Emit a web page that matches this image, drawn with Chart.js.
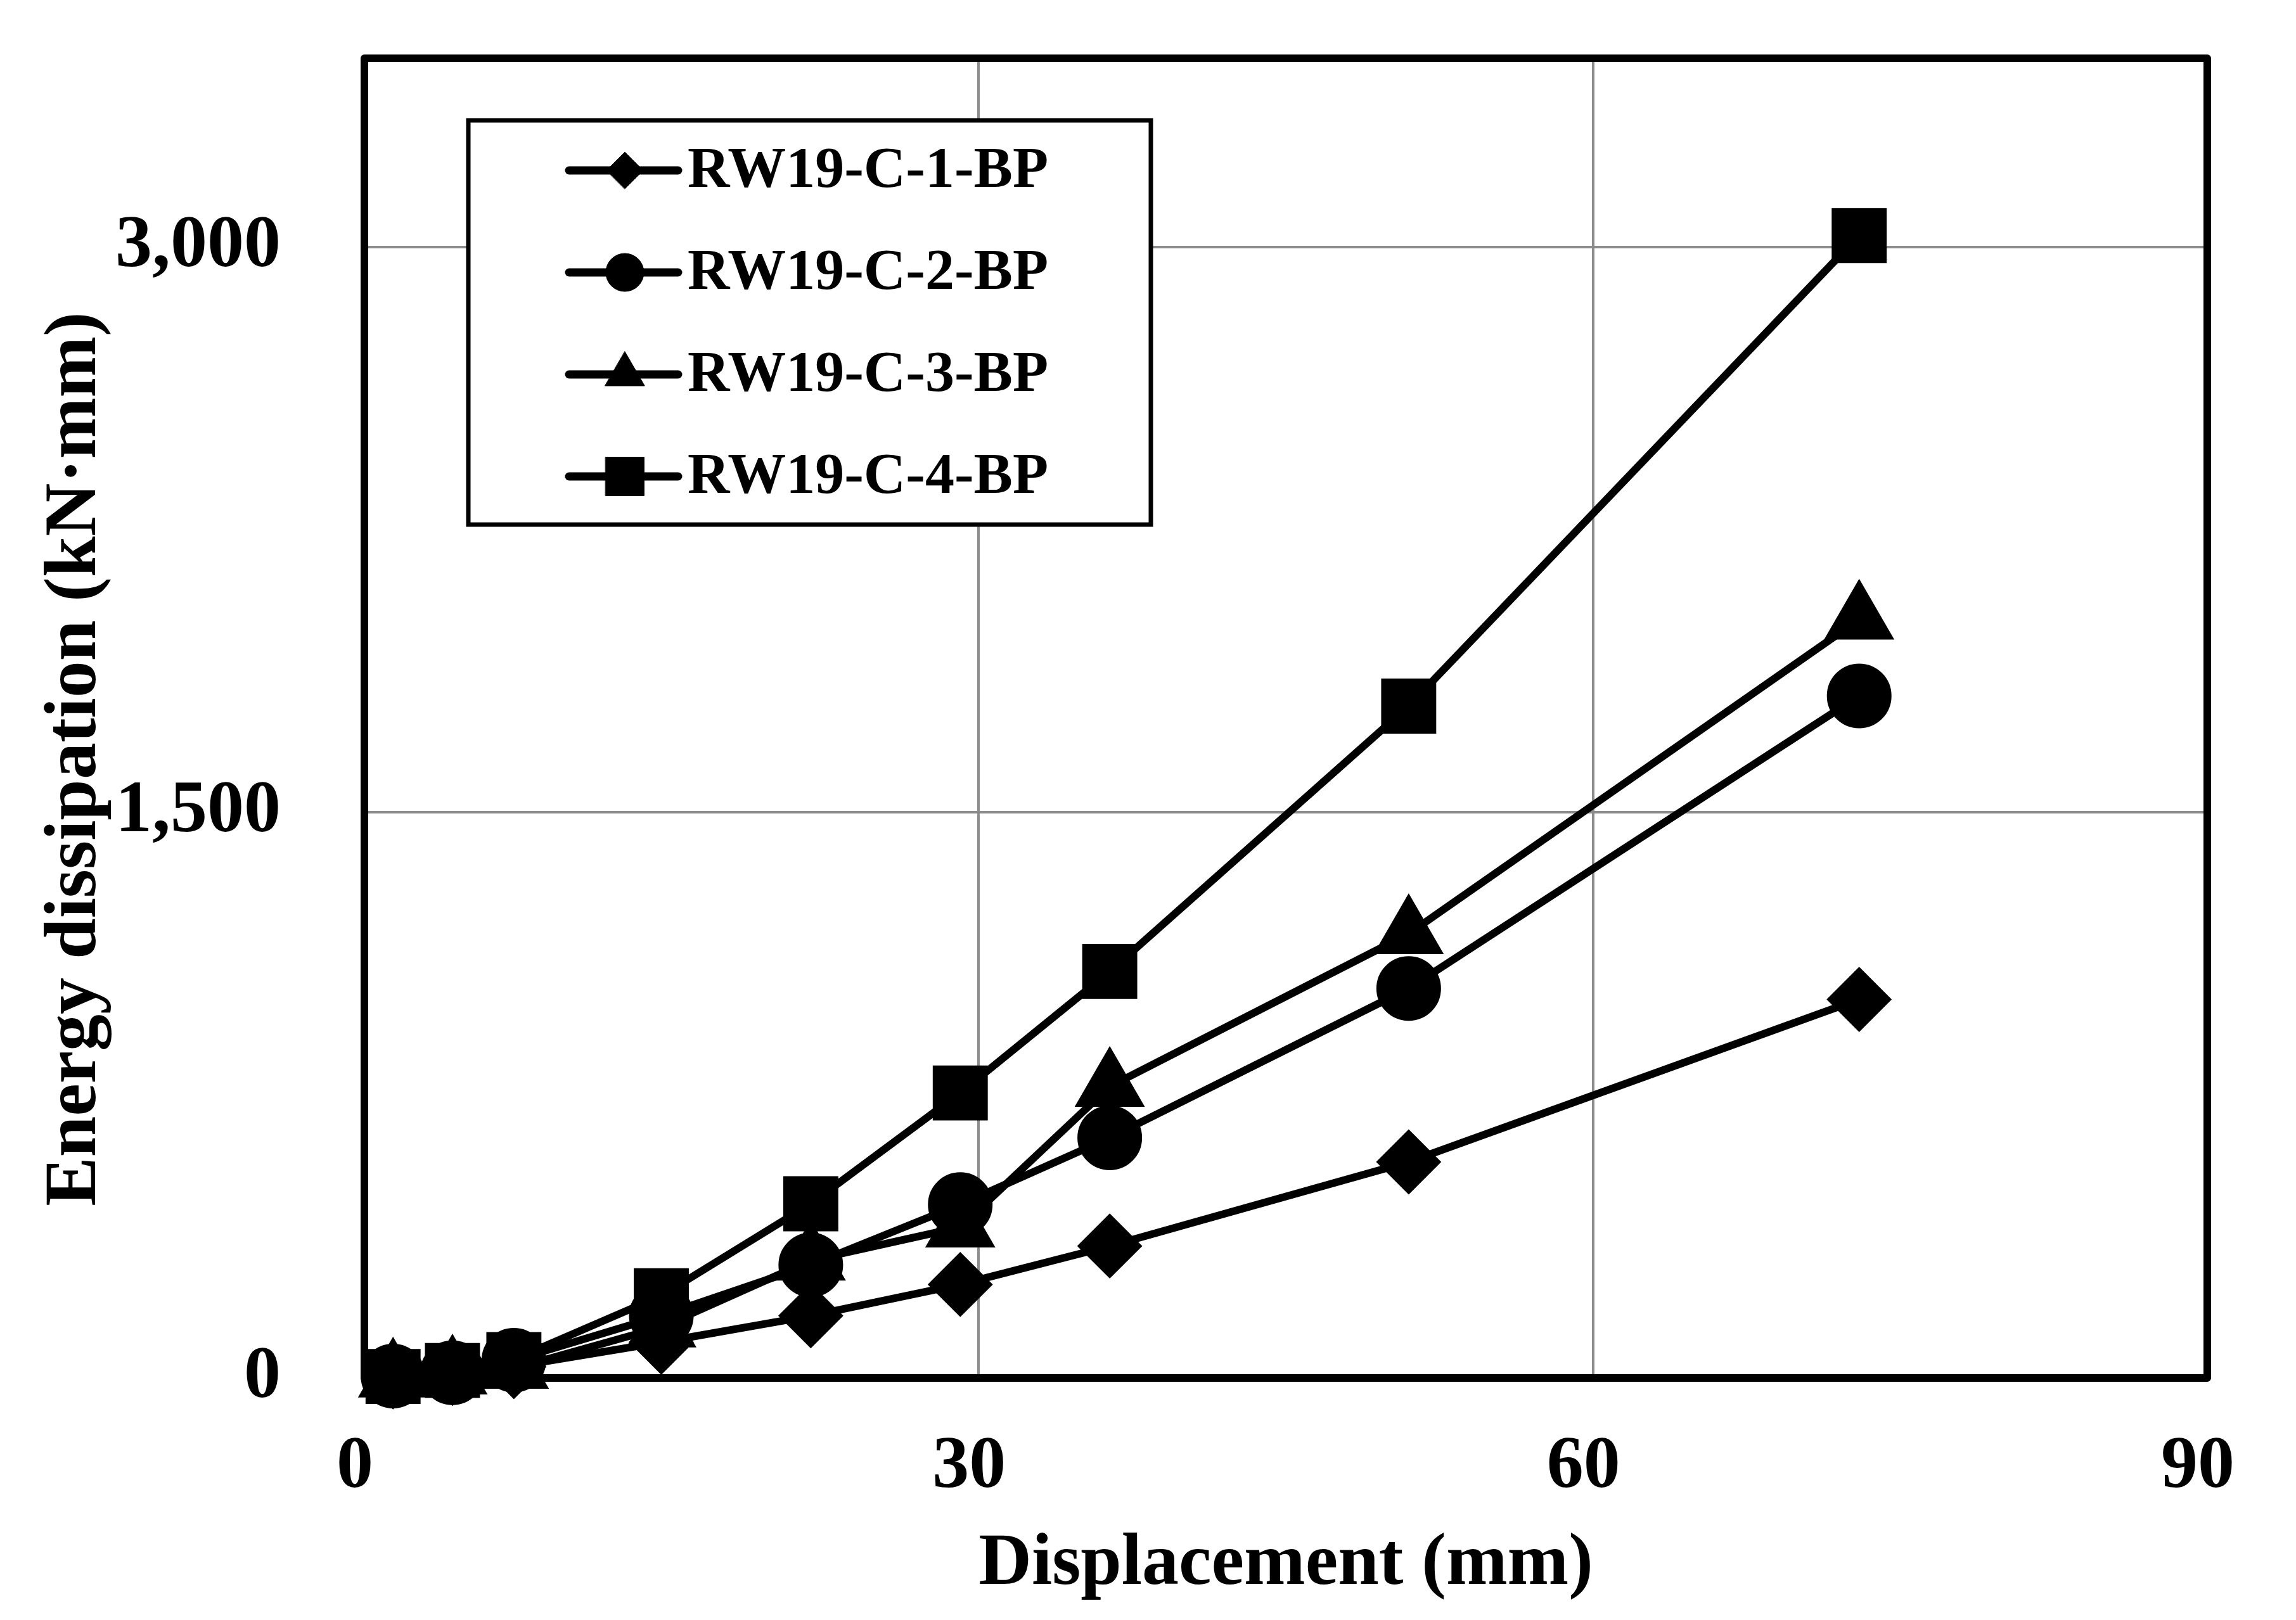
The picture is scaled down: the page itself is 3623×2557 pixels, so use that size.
<!DOCTYPE html>
<html>
<head>
<meta charset="utf-8">
<title>Energy dissipation</title>
<script src="https://cdn.jsdelivr.net/npm/chart.js@4.4.1/dist/chart.umd.min.js"></script>
<style>
  html, body { margin: 0; padding: 0; background: #fff; }
  canvas { display: block; }
</style>
</head>
<body>
<canvas id="energyChart" width="3623" height="2557"></canvas>
<script>
// Displacement steps (mm), shared by all four specimens
const displacement = [1.4, 4.3, 7.3, 14.5, 21.8, 29.1, 36.4, 51.0, 73.0];

// Energy dissipation (kN·mm)
const rw1 = [3, 12, 30, 95, 165, 248, 350, 573, 1004];
const rw2 = [5, 14, 47, 165, 300, 460, 637, 1033, 1809];
const rw3 = [2, 10, 25, 135, 312, 400, 773, 1178, 2012];
const rw4 = [4, 20, 49, 218, 462, 756, 1078, 1782, 3030];

const seriesNames = ['RW19-C-1-BP', 'RW19-C-2-BP', 'RW19-C-3-BP', 'RW19-C-4-BP'];
const xTicks = [0, 30, 60, 90];
const yTicks = [0, 1500, 3000];

const FONT = "'Liberation Serif', 'Times New Roman', serif";
const markers = ['rectRot', 'circle', 'triangle', 'rect'];
const markerSize = [50, 50, 62, 60];
const legendMarkerSize = [29, 30, 36, 43];

function toPoints(values) {
    return values.map((v, i) => ({ x: displacement[i], y: v }));
}

const datasets = [rw1, rw2, rw3, rw4].map((values, i) => ({
    label: seriesNames[i],
    data: toPoints(values),
    borderColor: '#000',
    backgroundColor: '#000',
    borderWidth: 12,
    pointStyle: markers[i],
    pointRadius: markerSize[i],
    pointBorderWidth: 2,
    pointBorderColor: '#000',
    pointBackgroundColor: '#000',
    tension: 0,
    clip: false
}));

// Thick black frame round the plot area, under the data
const plotFrame = {
    id: 'plotFrame',
    beforeDatasetsDraw(chart) {
        const { ctx, chartArea: a } = chart;
        ctx.save();
        ctx.strokeStyle = '#000';
        ctx.lineWidth = 12;
        ctx.lineJoin = 'round';
        ctx.strokeRect(a.left, a.top, a.right - a.left, a.bottom - a.top);
        ctx.restore();
    }
};

// Boxed legend inside the plot, line + marker like the original
const legendBox = {
    id: 'legendBox',
    afterDatasetsDraw(chart) {
        const { ctx, chartArea: a } = chart;
        const left = a.left + 164, top = a.top + 98, w = 1077, h = 638;
        ctx.save();
        ctx.fillStyle = '#fff';
        ctx.fillRect(left, top, w, h);
        ctx.strokeStyle = '#000';
        ctx.lineWidth = 7;
        ctx.strokeRect(left, top, w, h);

        chart.data.datasets.forEach((ds, i) => {
            const y = top + 79 + i * 161;
            ctx.strokeStyle = '#000';
            ctx.fillStyle = '#000';
            ctx.lineWidth = 13;
            ctx.lineCap = 'round';
            ctx.beginPath();
            ctx.moveTo(left + 159, y);
            ctx.lineTo(left + 331, y);
            ctx.stroke();

            ctx.lineWidth = 1;
            Chart.helpers.drawPoint(ctx, {
                pointStyle: ds.pointStyle,
                radius: legendMarkerSize[i],
                borderWidth: 1,
                rotation: 0
            }, left + 247, y);

            ctx.font = 'bold 92px ' + FONT;
            ctx.textAlign = 'left';
            ctx.textBaseline = 'middle';
            ctx.fillText(ds.label, left + 346, y + 2);
        });
        ctx.restore();
    }
};

// Y axis title, placed where the original has it (a little below centre)
const yTitle = {
    id: 'yTitle',
    afterDraw(chart) {
        const { ctx } = chart;
        ctx.save();
        ctx.translate(120, 1198);
        ctx.rotate(-Math.PI / 2);
        ctx.font = 'bold 116px ' + FONT;
        ctx.fillStyle = '#000';
        ctx.textAlign = 'center';
        ctx.textBaseline = 'middle';
        ctx.fillText('Energy dissipation (kN·mm)', 0, 0);
        ctx.restore();
    }
};

const ctx = document.getElementById('energyChart').getContext('2d');
new Chart(ctx, {
    type: 'line',
    data: { datasets },
    options: {
        responsive: false,
        animation: false,
        devicePixelRatio: 1,
        layout: { padding: { top: 92, right: 140, left: 0, bottom: 0 } },
        plugins: {
            legend: { display: false },
            tooltip: { enabled: false }
        },
        scales: {
            x: {
                type: 'linear',
                min: 0,
                max: 90,
                afterBuildTicks: scale => { scale.ticks = xTicks.map(v => ({ value: v })); },
                afterFit: scale => { scale.height = 382; },
                grid: { color: '#8c8c8c', lineWidth: 4, drawTicks: false },
                border: { display: false },
                ticks: {
                    color: '#000',
                    padding: 72,
                    labelOffset: -15,
                    font: { family: FONT, size: 116, weight: 'bold' }
                },
                title: {
                    display: true,
                    text: 'Displacement (mm)',
                    color: '#000',
                    padding: { top: 0, bottom: 29 },
                    font: { family: FONT, size: 116, weight: 'bold', lineHeight: 1 }
                }
            },
            y: {
                min: 0,
                max: 3500,
                afterBuildTicks: scale => { scale.ticks = yTicks.map(v => ({ value: v })); },
                afterFit: scale => {
                    scale.width = 575;
                    scale.paddingTop = 0;
                    scale.paddingBottom = 0;
                },
                grid: { color: '#8c8c8c', lineWidth: 4, drawTicks: false },
                border: { display: false },
                ticks: {
                    color: '#000',
                    padding: 132,
                    font: { family: FONT, size: 116, weight: 'bold' },
                    callback: value => value.toLocaleString('en-US')
                }
            }
        }
    },
    plugins: [plotFrame, legendBox, yTitle]
});
</script>
</body>
</html>
